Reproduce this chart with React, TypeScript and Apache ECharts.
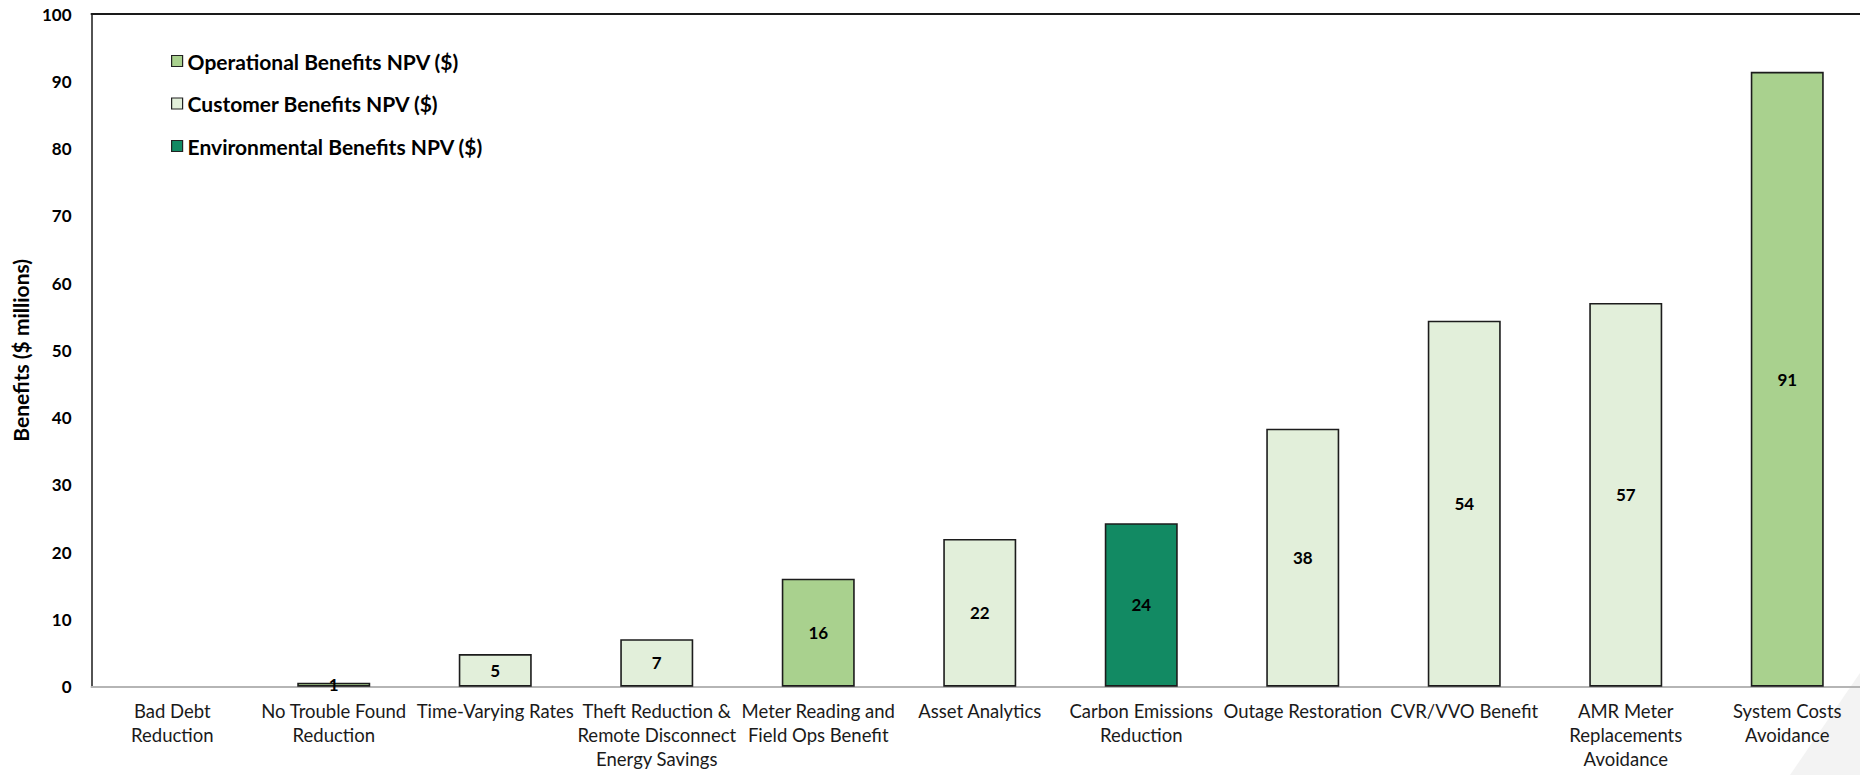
import React, { useEffect, useRef } from "react";
import * as echarts from "echarts";

// Benefit streams, sorted by NPV ($ millions)
const categories = [
  "Bad Debt\nReduction",
  "No Trouble Found\nReduction",
  "Time-Varying Rates",
  "Theft Reduction &\nRemote Disconnect\nEnergy Savings",
  "Meter Reading and\nField Ops Benefit",
  "Asset Analytics",
  "Carbon Emissions\nReduction",
  "Outage Restoration",
  "CVR/VVO Benefit",
  "AMR Meter\nReplacements\nAvoidance",
  "System Costs\nAvoidance",
];

const benefitValues = [0, 0.6, 4.85, 7.05, 16.05, 21.96, 24.3, 38.35, 54.4, 57.05, 91.4];

// Which benefit class each stream belongs to
const benefitTypes = [
  "customer",
  "operational",
  "customer",
  "customer",
  "operational",
  "customer",
  "environmental",
  "customer",
  "customer",
  "customer",
  "operational",
];

const seriesDefs = [
  { key: "operational", name: "Operational Benefits NPV ($)", color: "#a9d18e" },
  { key: "customer", name: "Customer Benefits NPV ($)", color: "#e2efda" },
  { key: "environmental", name: "Environmental Benefits NPV ($)", color: "#128a63" },
];

const yTicks = { min: 0, max: 100, interval: 10 };

const FONT = "Lato, 'Open Sans', sans-serif";

export default function App() {
  const ref = useRef<HTMLDivElement>(null);

  useEffect(() => {
    if (!ref.current) return;
    const chart = echarts.init(ref.current, null, { renderer: "svg" });

    // One stacked series per benefit class, so each stream sits in its own slot
    const series = seriesDefs.map((def) => ({
      name: def.name,
      type: "bar",
      stack: "benefits",
      barWidth: 73,
      data: benefitValues.map((v, i) => (benefitTypes[i] === def.key && v > 0 ? v : "-")),
      itemStyle: {
        color: def.color,
        borderColor: "#1c1c1c",
        borderWidth: 1.6,
      },
      label: {
        show: true,
        position: "inside",
        color: "#000",
        fontFamily: FONT,
        fontWeight: "bold",
        fontSize: 17,
        formatter: (p: any) => (p.value ? String(Math.round(p.value)) : ""),
      },
    }));

    chart.setOption({
      animation: false,
      backgroundColor: "#ffffff",
      textStyle: { fontFamily: FONT },
      grid: { left: 91.5, right: 12, top: 14, bottom: 88.3, containLabel: false },
      legend: {
        orient: "vertical",
        left: 166,
        top: 44,
        itemWidth: 11,
        itemHeight: 11,
        itemGap: 18.5,
        icon: "rect",
        selectedMode: false,
        itemStyle: { borderColor: "#222", borderWidth: 1.2 },
        textStyle: {
          fontFamily: FONT,
          fontWeight: "bold",
          fontSize: 21,
          lineHeight: 24,
          color: "#000",
        },
        data: seriesDefs.map((d) => d.name),
      },
      graphic: [
        {
          type: "polygon",
          z: -10,
          silent: true,
          shape: { points: [[1860, 673], [1860, 775], [1790, 775]] },
          style: { fill: "#f3f3f3" },
        },
      ],
      xAxis: [
        {
          type: "category",
          data: categories,
          position: "bottom",
          axisLine: { show: true, lineStyle: { color: "#b5b5b5", width: 2 } },
          axisTick: { show: false },
          axisLabel: {
            interval: 0,
            margin: 12,
            color: "#1a1a1a",
            fontFamily: FONT,
            fontSize: 18.5,
            lineHeight: 24,
            hideOverlap: false,
          },
        },
        {
          type: "category",
          data: categories,
          position: "top",
          axisLine: { show: true, lineStyle: { color: "#1a1a1a", width: 2 } },
          axisTick: { show: false },
          axisLabel: { show: false },
        },
      ],
      yAxis: {
        type: "value",
        min: yTicks.min,
        max: yTicks.max,
        interval: yTicks.interval,
        name: "Benefits ($ millions)",
        nameLocation: "middle",
        nameGap: 59,
        nameRotate: 90,
        nameTextStyle: {
          fontFamily: FONT,
          fontWeight: "bold",
          fontSize: 21,
          color: "#000",
        },
        axisLine: { show: true, lineStyle: { color: "#1a1a1a", width: 1.5 } },
        axisTick: { show: false },
        splitLine: { show: false },
        axisLabel: {
          margin: 20,
          color: "#000",
          fontFamily: FONT,
          fontWeight: "bold",
          fontSize: 17,
        },
      },
      series,
    });

    return () => chart.dispose();
  }, []);

  return (
    <div
      style={{
        position: "fixed",
        left: 0,
        top: 0,
        width: 1860,
        height: 775,
        overflow: "hidden",
        background: "#fff",
      }}
    >
      <div ref={ref} style={{ width: 1880, height: 775 }} />
    </div>
  );
}
